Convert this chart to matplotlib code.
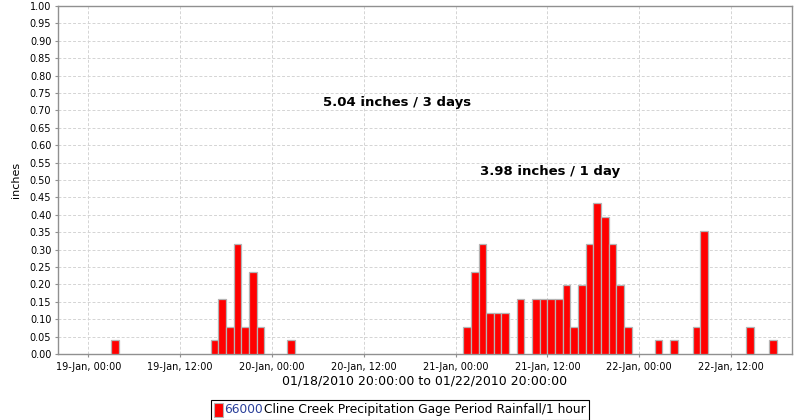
import datetime as dt
import matplotlib
matplotlib.use('Agg')
import matplotlib.pyplot as plt
import matplotlib.dates as mdates
from matplotlib.ticker import MultipleLocator, FormatStrFormatter
from matplotlib.offsetbox import AnchoredOffsetbox, HPacker, TextArea, DrawingArea
from matplotlib.patches import Rectangle

# hourly period start and rainfall (inches)
period_start = [
    '2010-01-19 03:00', '2010-01-19 16:00', '2010-01-19 17:00', '2010-01-19 18:00',
    '2010-01-19 19:00', '2010-01-19 20:00', '2010-01-19 21:00', '2010-01-19 22:00',
    '2010-01-20 02:00',
    '2010-01-21 01:00', '2010-01-21 02:00', '2010-01-21 03:00', '2010-01-21 04:00',
    '2010-01-21 05:00', '2010-01-21 06:00', '2010-01-21 08:00', '2010-01-21 10:00',
    '2010-01-21 11:00', '2010-01-21 12:00', '2010-01-21 13:00', '2010-01-21 14:00',
    '2010-01-21 15:00', '2010-01-21 16:00', '2010-01-21 17:00', '2010-01-21 18:00',
    '2010-01-21 19:00', '2010-01-21 20:00', '2010-01-21 21:00', '2010-01-21 22:00',
    '2010-01-22 02:00', '2010-01-22 04:00', '2010-01-22 07:00', '2010-01-22 08:00',
    '2010-01-22 14:00', '2010-01-22 17:00',
]
rain_in = [
    0.039, 0.039, 0.157, 0.079,
    0.315, 0.079, 0.236, 0.079,
    0.039,
    0.079, 0.236, 0.315, 0.118,
    0.118, 0.118, 0.157, 0.157,
    0.157, 0.157, 0.157, 0.197,
    0.079, 0.197, 0.315, 0.433,
    0.394, 0.315, 0.197, 0.079,
    0.039, 0.039, 0.079, 0.354,
    0.079, 0.039,
]
range_start = '2010-01-18 20:00'
range_end = '2010-01-22 20:00'
totals = ['5.04 inches / 3 days', '3.98 inches / 1 day']
series_id = '66000'
series_name = 'Cline Creek Precipitation Gage Period Rainfall/1 hour'

fmt = '%Y-%m-%d %H:%M'
times = [dt.datetime.strptime(s, fmt) for s in period_start]
t0 = dt.datetime.strptime(range_start, fmt)
t1 = dt.datetime.strptime(range_end, fmt)

plt.rcParams['font.family'] = 'DejaVu Sans'
fig = plt.figure(figsize=(8, 4.2), dpi=100)
ax = fig.add_axes([0.072, 0.1571, 0.9184, 0.8286])

ax.bar(times, rain_in, width=1 / 24, align='edge', color='#ff0000',
       edgecolor='#b4b4b4', linewidth=0.9, zorder=3)

ax.set_xlim(t0, t1)
ax.set_ylim(0, 1.0)
ax.yaxis.set_major_locator(MultipleLocator(0.05))
ax.yaxis.set_major_formatter(FormatStrFormatter('%.2f'))
ax.xaxis.set_major_locator(mdates.HourLocator(byhour=[0, 12]))
ax.xaxis.set_major_formatter(mdates.DateFormatter('%d-%b, %H:%M'))

ax.grid(True, color='#d4d4d4', linestyle=(0, (3, 2)), linewidth=0.7, zorder=0)
for sp in ax.spines.values():
    sp.set_color('#909090')
    sp.set_linewidth(1.0)
ax.tick_params(axis='both', labelsize=7, length=2, width=0.8, color='#909090')
ax.tick_params(axis='x', pad=3.5)
ax.tick_params(axis='y', pad=2.5)

ax.set_xlabel(f'{range_start[5:7]}/{range_start[8:10]}/{range_start[:4]} {range_start[11:]}:00 to '
              f'{range_end[5:7]}/{range_end[8:10]}/{range_end[:4]} {range_end[11:]}:00',
              fontsize=9, labelpad=2)
ax.set_ylabel('inches', fontsize=8, labelpad=6)

ax.text(0.361, 0.722, totals[0], transform=ax.transAxes, fontsize=9.5,
        fontweight='bold', ha='left', va='center')
ax.text(0.575, 0.524, totals[1], transform=ax.transAxes, fontsize=9.5,
        fontweight='bold', ha='left', va='center')

# legend below the plot
da = DrawingArea(6, 10, 0, 0)
da.add_artist(Rectangle((0, 0), 6, 10, facecolor='#ff0000', edgecolor='#b4b4b4', linewidth=0.8))
id_txt = TextArea(series_id, textprops=dict(color='#2a3f9a', fontsize=8.8))
name_txt = TextArea(series_name, textprops=dict(color='black', fontsize=8.8))
pack = HPacker(children=[da, id_txt, name_txt], align='center', pad=0, sep=1)
leg = AnchoredOffsetbox(loc='center', child=pack, pad=0.25, borderpad=0,
                        bbox_to_anchor=(0.5, 0.024), bbox_transform=fig.transFigure,
                        frameon=True)
leg.patch.set_edgecolor('black')
leg.patch.set_linewidth(0.8)
leg.patch.set_boxstyle('square', pad=0)
fig.add_artist(leg)

fig.savefig('out.png', dpi=100)
